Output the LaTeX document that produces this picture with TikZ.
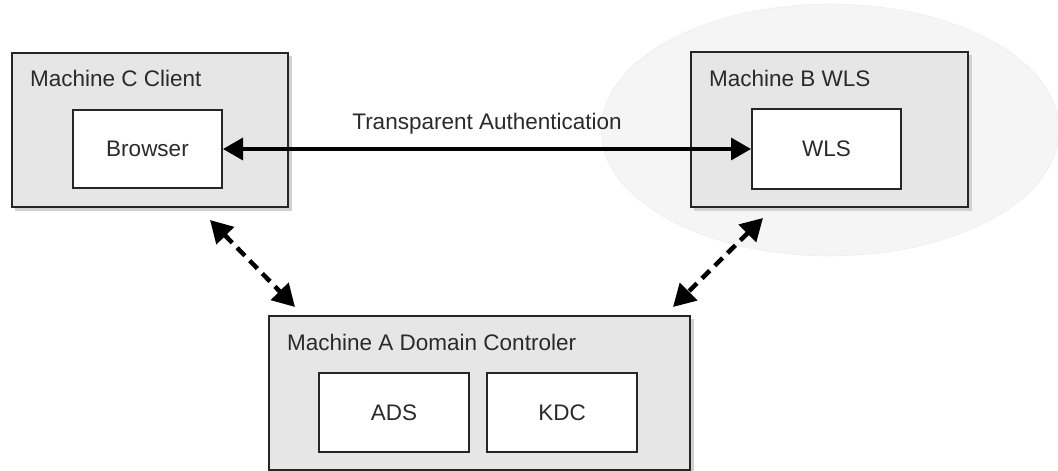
\documentclass[tikz,border=0pt]{standalone}
\usepackage{fontspec}
\setmainfont{Liberation Sans}
\usetikzlibrary{arrows.meta,calc}
\definecolor{outerfill}{HTML}{E6E6E6}
\definecolor{ellfill}{HTML}{F5F5F5}
\definecolor{txt}{HTML}{2A2A2A}
\tikzset{
  machine/.style={draw=black!85, line width=2pt, fill=outerfill, inner sep=0pt},
  comp/.style={draw=black!85, line width=2pt, fill=white, inner sep=0pt,
    font=\fontsize{22.5}{26}\selectfont, text=txt},
  lbl/.style={anchor=west, inner sep=0pt, font=\fontsize{22.5}{26}\selectfont, text=txt},
  shadowbox/.style={fill=black!18, draw=none},
  solidarrow/.style={line width=3.5pt, {Triangle[length=20pt,width=22pt]}-{Triangle[length=20pt,width=22pt]}},
  dasharrow/.style={line width=4.5pt, dash pattern=on 11pt off 7pt,
    {Triangle[length=22pt,width=24pt]}-{Triangle[length=22pt,width=24pt]}}
}
\begin{document}
\begin{tikzpicture}[x=1pt,y=-1pt]
\useasboundingbox (0,0) rectangle (1058,471);
\begin{scope}
\clip (0,0) rectangle (1058,471);
% background ellipse
\fill[ellfill] (830,130) ellipse [x radius=229, y radius=126];
\draw[black!12, line width=0.6pt, densely dotted] (830,130) ellipse [x radius=229, y radius=126];
% shadows
\fill[shadowbox] (15,56) rectangle (292,211);
\fill[shadowbox] (694,55) rectangle (972,211);
\fill[shadowbox] (272,319) rectangle (694,474);
\fill[shadowbox] (76,113) rectangle (226,192);
\fill[shadowbox] (755,112) rectangle (905,193);
\fill[shadowbox] (322,376) rectangle (473,456);
\fill[shadowbox] (490,376) rectangle (641,456);
% machines
\node[machine, minimum width=276pt, minimum height=154pt] (mc) at (150,130) {};
\node[machine, minimum width=277pt, minimum height=155pt] (mb) at (829.5,129.5) {};
\node[machine, minimum width=421pt, minimum height=154pt] (ma) at (479.5,393) {};
\end{scope}
% labels
\node[lbl] (lc) at (30,78) {Machine C Client};
\node[lbl] (lb) at (709,78) {Machine B WLS};
\node[lbl] (la) at (287,342) {Machine A Domain Controler};
% components
\node[comp, minimum width=149pt, minimum height=78pt] (browser) at (147.5,149) {Browser};
\node[comp, minimum width=149pt, minimum height=80pt] (wls) at (826.5,149) {WLS};
\node[comp, minimum width=150pt, minimum height=79pt] (ads) at (394,412.5) {ADS};
\node[comp, minimum width=150pt, minimum height=79pt] (kdc) at (562,412.5) {KDC};
% transparent authentication
\draw[solidarrow] (browser.east) -- (wls.west)
  node[midway, above=13pt, inner sep=0pt, font=\fontsize{22.5}{26}\selectfont, text=txt] (ta) {Transparent Authentication};
% dashed arrows
\coordinate (c1) at (210,220);
\coordinate (a1) at (295,307);
\coordinate (b1) at (763,218);
\coordinate (a2) at (673,307);
\draw[dasharrow] (c1) -- (a1);
\draw[dasharrow] (b1) -- (a2);
\end{tikzpicture}
\end{document}
